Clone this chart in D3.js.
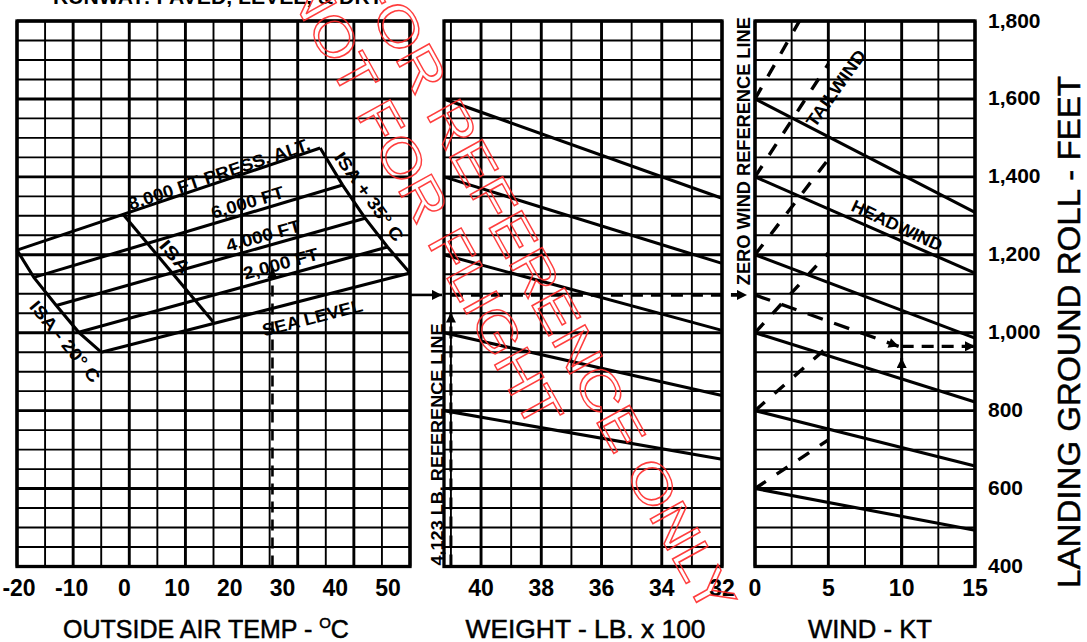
<!DOCTYPE html>
<html><head><meta charset="utf-8">
<script src="https://cdn.jsdelivr.net/npm/d3@7"></script>
<style>body{margin:0;background:#fff}svg{display:block}text{font-family:"Liberation Sans",Arial,Helvetica,sans-serif}</style>
</head><body>
<svg id="c" width="1087" height="642"></svg>
<script>
// ---------------- DATA ----------------
const chartTitle = "RUNWAY: PAVED, LEVEL, & DRY";
const tempTicks = [-20, -10, 0, 10, 20, 30, 40, 50];
const weightTicks = [40, 38, 36, 34, 32];
const windTicks = [0, 5, 10, 15];
const rollTicks = [400, 600, 800, 1000, 1200, 1400, 1600, 1800];
const rollTickLabels = ["400", "600", "800", "1,000", "1,200", "1,400", "1,600", "1,800"];

// pressure-altitude lines: end on ISA-20 (left) and ISA+35 (right)
const pressAltNames = ["8,000 FT PRESS. ALT.", "6,000 FT", "4,000 FT", "2,000 FT", "SEA LEVEL"];
const isaMinus20Temp = [-20, -17, -13, -9, -5];
const isaMinus20Roll = [1212, 1142, 1070, 1001, 950];
const isaPlus35Temp = [34, 38, 42, 46, 50];
const isaPlus35Roll = [1474, 1379, 1294, 1220, 1153];
const isaLineTemp = [-1, 15];
const isaLineRoll = [1302, 1027];

// weight guide lines (from 4,123 lb reference to 3,200 lb)
const weightRef = 41.23;
const weightLineStart = [1600, 1400, 1200, 1000, 800];
const weightLineAt32 = [1345, 1178, 1006, 839, 675];

// wind guide lines
const windLineStart = [1600, 1400, 1200, 1000, 800, 600];
const headwindAt15 = [1309, 1153, 986, 822, 658, 493];
const tailwindAt5 = [1930, 1690, 1445, 1205, 965, 725];

// worked example
const exTemp = 25.5, exTempArrowRoll = 1166;
const exRoll = 1097;
const exWeight = 41.0, exWeightArrowRoll = 1052;
const exWind = 10, exWindRoll = 965, exWindArrowRoll = 935;

// ---------------- SCALES ----------------
const svg = d3.select("#c");
svg.append("rect").attr("width", 1087).attr("height", 642).attr("fill", "#fff");
const defs = svg.append("defs");
defs.append("marker").attr("id", "arr").attr("viewBox", "0 0 10 10").attr("refX", 10).attr("refY", 5)
  .attr("markerUnits", "userSpaceOnUse").attr("markerWidth", 14).attr("markerHeight", 10).attr("orient", "auto")
  .append("path").attr("d", "M0,0L10,5L0,10Z").attr("fill", "#000");

const yR = d3.scaleLinear().domain([400, 1800]).range([566.5, 21]);
const xT = d3.scaleLinear().domain([-20, 50]).range([17, 410]);
const xTLab = d3.scaleLinear().domain([-20, 50]).range([19, 388]);
const xW = d3.scaleLinear().domain([weightRef, 32]).range([444, 722]);
const xK = d3.scaleLinear().domain([0, 15]).range([755, 975]);

const gridRolls = d3.range(400, 1801, 50);

function grid(xs, xvals, isMajor) {
  const g = svg.append("g");
  const [x0, x1] = xs.range();
  g.selectAll("line.h").data(gridRolls).join("line").attr("class", "h")
    .attr("x1", x0).attr("x2", x1).attr("y1", d => yR(d)).attr("y2", d => yR(d))
    .attr("stroke", "#000").attr("stroke-width", d => d % 200 === 0 ? 2.9 : 1.9);
  g.selectAll("line.v").data(xvals).join("line").attr("class", "v")
    .attr("x1", d => xs(d)).attr("x2", d => xs(d)).attr("y1", yR(400)).attr("y2", yR(1800))
    .attr("stroke", "#000").attr("stroke-width", d => isMajor(d) ? 2.9 : 1.9);
  g.append("rect").attr("x", Math.min(x0, x1)).attr("y", yR(1800)).attr("width", Math.abs(x1 - x0))
    .attr("height", yR(400) - yR(1800)).attr("fill", "none").attr("stroke", "#000").attr("stroke-width", 3.3);
}
grid(xT, d3.range(-20, 51, 5), d => d % 10 === 0);
grid(xW, d3.range(32, 42, 1), d => d % 2 === 0);
grid(xK, d3.range(0, 15.1, 2.5), d => d % 5 === 0);

// ---------------- GUIDE LINES ----------------
const thick = 3.1;
function seg(g, x1, y1, x2, y2, w, dash, marker) {
  const l = g.append("line").attr("x1", x1).attr("y1", y1).attr("x2", x2).attr("y2", y2)
    .attr("stroke", "#000").attr("stroke-width", w).attr("stroke-linecap", "butt");
  if (dash) l.attr("stroke-dasharray", dash);
  if (marker) l.attr("marker-end", "url(#arr)");
  return l;
}
const gL = svg.append("g");
pressAltNames.forEach((n, i) => seg(gL, xT(isaMinus20Temp[i]), yR(isaMinus20Roll[i]), xT(isaPlus35Temp[i]), yR(isaPlus35Roll[i]), thick));
const lineGen = d3.line();
gL.append("path").attr("d", lineGen(isaMinus20Temp.map((t, i) => [xT(t), yR(isaMinus20Roll[i])])))
  .attr("fill", "none").attr("stroke", "#000").attr("stroke-width", thick);
gL.append("path").attr("d", lineGen(isaPlus35Temp.map((t, i) => [xT(t), yR(isaPlus35Roll[i])])))
  .attr("fill", "none").attr("stroke", "#000").attr("stroke-width", thick);
seg(gL, xT(isaLineTemp[0]), yR(isaLineRoll[0]), xT(isaLineTemp[1]), yR(isaLineRoll[1]), thick);

const gM = svg.append("g");
weightLineStart.forEach((s, i) => seg(gM, xW(weightRef), yR(s), xW(32), yR(weightLineAt32[i]), thick));

defs.append("clipPath").attr("id", "clipK").append("rect")
  .attr("x", xK(0)).attr("y", yR(1800)).attr("width", xK(15) - xK(0)).attr("height", yR(400) - yR(1800));
const gK = svg.append("g");
windLineStart.forEach((s, i) => seg(gK, xK(0), yR(s), xK(15), yR(headwindAt15[i]), thick));
const gKt = svg.append("g").attr("clip-path", "url(#clipK)");
windLineStart.forEach((s, i) => seg(gKt, xK(0), yR(s), xK(5), yR(tailwindAt5[i]), 3.4, "13,13"));

// ---------------- WORKED EXAMPLE ----------------
const gE = svg.append("g");
seg(gE, xT(exTemp), yR(400), xT(exTemp), yR(exTempArrowRoll), 2.6, "11,7", true);
seg(gE, xT(50), yR(exRoll), xW(weightRef) - 2, yR(exRoll), 2.6, null, true);
seg(gE, xW(exWeight), yR(400), xW(exWeight), yR(exWeightArrowRoll), 3, "12,7", true);
seg(gE, xW(exWeight), yR(exRoll), xK(0) - 8, yR(exRoll), 3.8, "12,8", true);
seg(gE, xK(0), yR(exRoll), xK(exWind) - 3, yR(exWindRoll), 3.3, "16,12", true);
seg(gE, xK(exWind), yR(exWindRoll), xK(15), yR(exWindRoll), 3.3, "12,8", true);
seg(gE, xK(exWind), yR(400), xK(exWind), yR(exWindArrowRoll), 2.9, null, true);

// ---------------- LABELS ----------------
function placeLabel(text, x, y, ang, size, len, weight) {
  const t = svg.append("text").attr("transform", `translate(${x},${y}) rotate(${ang})`)
    .attr("text-anchor", "middle").attr("dominant-baseline", "central")
    .attr("font-size", size).attr("font-weight", weight || "bold").attr("fill", "#000").text(text);
  if (len) t.attr("textLength", len).attr("lengthAdjust", "spacingAndGlyphs");
  return t;
}
function angle(x1, y1, x2, y2) { return Math.atan2(y2 - y1, x2 - x1) * 180 / Math.PI; }

const altLabelTemp = [16.0, 21.06, 23.9, 27.0, 32.6];
const altLabelRoll = [1407, 1334, 1249, 1177, 1038];
const altLabelLen = [191, 75, 77, 77, 103];
pressAltNames.forEach((n, i) => {
  const a = angle(xT(isaMinus20Temp[i]), yR(isaMinus20Roll[i]), xT(isaPlus35Temp[i]), yR(isaPlus35Roll[i]));
  placeLabel(n, xT(altLabelTemp[i]), yR(altLabelRoll[i]), a, 17.5, altLabelLen[i]);
});
const aP35 = angle(xT(isaPlus35Temp[0]), yR(isaPlus35Roll[0]), xT(isaPlus35Temp[4]), yR(isaPlus35Roll[4]));
placeLabel("ISA + 35° C", xT(42.7), yR(1349), aP35, 17.5, 105);
const aM20 = angle(xT(isaMinus20Temp[0]), yR(isaMinus20Roll[0]), xT(isaMinus20Temp[4]), yR(isaMinus20Roll[4]));
placeLabel("ISA - 20° C", xT(-11.45), yR(977), aM20, 17.5, 100);
const aIsa = angle(xT(isaLineTemp[0]), yR(isaLineRoll[0]), xT(isaLineTemp[1]), yR(isaLineRoll[1]));
placeLabel("ISA", xT(8.14), yR(1195), aIsa, 17.5, 38);

const aTail = (angle(xK(0), yR(windLineStart[1]), xK(5), yR(tailwindAt5[1])) + angle(xK(0), yR(windLineStart[2]), xK(5), yR(tailwindAt5[2]))) / 2;
placeLabel("TAILWIND", xK(5.52), yR(1627), aTail, 17.5, 90);
const aHead = angle(xK(0), yR(windLineStart[1]), xK(15), yR(headwindAt15[1]));
placeLabel("HEADWIND", xK(9.68), yR(1275), aHead + 1.5, 17.5, 98);

// reference line texts
svg.append("text").attr("transform", `translate(${xW(weightRef) - 1.5},${yR(400) - 1}) rotate(-90)`)
  .attr("text-anchor", "start").attr("font-size", 17).attr("font-weight", "bold")
  .attr("textLength", 242).attr("lengthAdjust", "spacingAndGlyphs").text("4,123 LB. REFERENCE LINE");
svg.append("text").attr("transform", `translate(${xK(0) - 5},${yR(1122)}) rotate(-90)`)
  .attr("text-anchor", "start").attr("font-size", 18).attr("font-weight", "bold")
  .attr("textLength", 268).attr("lengthAdjust", "spacingAndGlyphs").text("ZERO WIND REFERENCE LINE");

// tick labels
const tickY = 596;
svg.append("g").selectAll("text").data(tempTicks).join("text")
  .attr("x", d => xTLab(d)).attr("y", tickY).attr("text-anchor", "middle")
  .attr("font-size", 23).attr("font-weight", "bold").text(d => d);
svg.append("g").selectAll("text").data(weightTicks).join("text")
  .attr("x", d => xW(d)).attr("y", tickY).attr("text-anchor", "middle")
  .attr("font-size", 23).attr("font-weight", "bold").text(d => d);
svg.append("g").selectAll("text").data(windTicks).join("text")
  .attr("x", d => xK(d)).attr("y", tickY).attr("text-anchor", "middle")
  .attr("font-size", 23).attr("font-weight", "bold").text(d => d);
svg.append("g").selectAll("text").data(rollTicks).join("text")
  .attr("x", 988).attr("y", d => yR(d) - 1).attr("dominant-baseline", "central")
  .attr("font-size", 21).attr("font-weight", "bold").text((d, i) => rollTickLabels[i]);

// axis titles
const titleY = 638;
const tT = svg.append("text").attr("x", 206).attr("y", titleY).attr("text-anchor", "middle")
  .attr("font-size", 25).attr("stroke", "#000").attr("stroke-width", 0.5);
tT.append("tspan").text("OUTSIDE AIR TEMP - ");
tT.append("tspan").attr("font-size", 15).attr("dy", -10).text("O");
tT.append("tspan").attr("dy", 10).text("C");
svg.append("text").attr("x", (xW(40) + xW(32)) / 2 - 16).attr("y", titleY).attr("text-anchor", "middle")
  .attr("font-size", 25).attr("stroke", "#000").attr("stroke-width", 0.5)
  .attr("textLength", 240).attr("lengthAdjust", "spacingAndGlyphs").text("WEIGHT - LB. x 100");
svg.append("text").attr("x", 870).attr("y", titleY).attr("text-anchor", "middle")
  .attr("font-size", 25).attr("stroke", "#000").attr("stroke-width", 0.5)
  .attr("textLength", 124).attr("lengthAdjust", "spacingAndGlyphs").text("WIND - KT");
svg.append("text").attr("transform", "translate(1080,332) rotate(-90)").attr("text-anchor", "middle")
  .attr("font-size", 31).attr("stroke", "#000").attr("stroke-width", 0.5)
  .attr("textLength", 512).attr("lengthAdjust", "spacingAndGlyphs").text("LANDING GROUND ROLL - FEET");

// partially visible chart title (cut by the top edge, as in the source)
svg.append("text").attr("x", 218).attr("y", 4).attr("text-anchor", "middle")
  .attr("font-size", 21).attr("font-weight", "bold").attr("textLength", 330)
  .attr("lengthAdjust", "spacingAndGlyphs").text(chartTitle);

// watermark
const wm = [{ text: "FOR REFERENCE ONLY", x: 545, y: 290, len: 730 }, { text: "NOT FOR FLIGHT", x: 425, y: 200, len: 510 }];
svg.append("g").attr("opacity", 0.9).selectAll("text").data(wm).join("text")
  .attr("transform", d => `translate(${d.x},${d.y}) rotate(61)`)
  .attr("text-anchor", "middle").attr("dominant-baseline", "central")
  .attr("font-size", 54).attr("fill", "none").attr("stroke", "#ff2a2a").attr("stroke-width", 1.4)
  .attr("textLength", d => d.len).attr("lengthAdjust", "spacingAndGlyphs").text(d => d.text);
</script>
</body></html>
